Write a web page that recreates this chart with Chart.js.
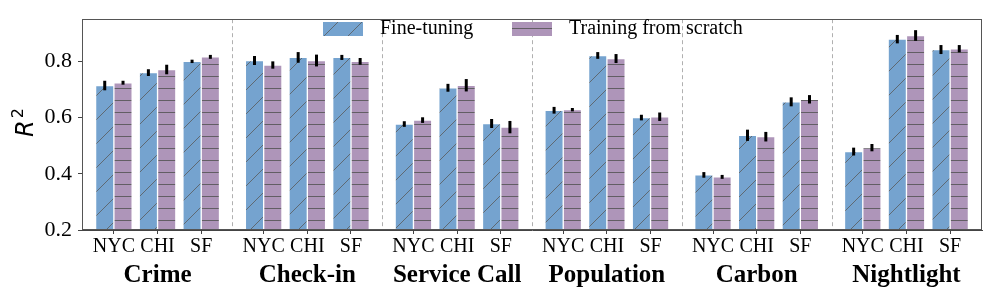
<!DOCTYPE html>
<html>
<head>
<meta charset="utf-8">
<script src="https://cdn.jsdelivr.net/npm/chart.js@4.4.1/dist/chart.umd.min.js"></script>
<style>
  html, body { margin: 0; padding: 0; background: #fff; }
  #wrap { width: 997px; height: 302px; }
</style>
</head>
<body>
<div id="wrap"><canvas id="chart" width="997" height="302"></canvas></div>
<script>
const tasks = ['Crime', 'Check-in', 'Service Call', 'Population', 'Carbon', 'Nightlight'];
const cities = ['NYC', 'CHI', 'SF'];

const fineTuning    = [0.714, 0.760, 0.800, 0.803, 0.814, 0.814, 0.577, 0.706, 0.579, 0.626, 0.821, 0.600, 0.396, 0.537, 0.656, 0.479, 0.879, 0.842];
const fineTuningErr = [0.017, 0.012, 0.006, 0.016, 0.019, 0.009, 0.010, 0.014, 0.016, 0.012, 0.012, 0.010, 0.010, 0.020, 0.016, 0.014, 0.015, 0.016];
const scratch       = [0.724, 0.771, 0.816, 0.787, 0.803, 0.800, 0.591, 0.715, 0.566, 0.628, 0.810, 0.603, 0.389, 0.532, 0.665, 0.493, 0.892, 0.845];
const scratchErr    = [0.007, 0.017, 0.007, 0.013, 0.021, 0.012, 0.010, 0.022, 0.022, 0.006, 0.016, 0.015, 0.007, 0.017, 0.015, 0.013, 0.019, 0.013];
const yTicks = [0.2, 0.4, 0.6, 0.8];

const blue = '#75a3cf';
const purple = '#ae95b9';
const serif = "'Liberation Serif', 'Times New Roman', serif";

// city slots on a linear x axis, with a wider gap between tasks
const groupStep = 3.43;
const xPos = tasks.flatMap((t, g) => cities.map((c, i) => g * groupStep + i));

const ctx = document.getElementById('chart').getContext('2d');

function diagPattern() {
  const s = 24;
  const c = document.createElement('canvas');
  c.width = s; c.height = s;
  const g = c.getContext('2d');
  g.fillStyle = blue;
  g.fillRect(0, 0, s, s);
  g.strokeStyle = 'rgba(90,90,90,0.8)';
  g.lineWidth = 1;
  g.beginPath();
  g.moveTo(-2, s + 2); g.lineTo(s + 2, -2);
  g.moveTo(-2, 2); g.lineTo(2, -2);
  g.moveTo(s - 2, s + 2); g.lineTo(s + 2, s - 2);
  g.stroke();
  return ctx.createPattern(c, 'repeat');
}

function horizPattern() {
  const s = 12;
  const c = document.createElement('canvas');
  c.width = s; c.height = s;
  const g = c.getContext('2d');
  g.fillStyle = purple;
  g.fillRect(0, 0, s, s);
  g.strokeStyle = 'rgba(85,85,85,0.85)';
  g.lineWidth = 1;
  g.beginPath();
  g.moveTo(0, 4.5); g.lineTo(s, 4.5);
  g.stroke();
  return ctx.createPattern(c, 'repeat');
}

const ftFill = diagPattern();
const tsFill = horizPattern();

const errs = [fineTuningErr, scratchErr];

const decorPlugin = {
  id: 'decor',
  beforeDatasetsDraw(chart) {
    const { ctx, chartArea: a, scales: { x } } = chart;
    ctx.save();
    ctx.strokeStyle = '#b0b0b0';
    ctx.lineWidth = 1;
    ctx.setLineDash([4, 3]);
    for (let g = 0; g < tasks.length - 1; g++) {
      const px = Math.round(x.getPixelForValue(g * groupStep + 2 + (groupStep - 2) / 2)) + 0.5;
      ctx.beginPath();
      ctx.moveTo(px, a.top);
      ctx.lineTo(px, a.bottom);
      ctx.stroke();
    }
    ctx.restore();
  },
  afterDatasetsDraw(chart) {
    const { ctx, scales: { y } } = chart;
    ctx.save();
    ctx.strokeStyle = '#000';
    ctx.lineWidth = 3;
    chart.data.datasets.forEach((ds, di) => {
      const meta = chart.getDatasetMeta(di);
      meta.data.forEach((bar, i) => {
        const v = ds.data[i].y;
        const e = errs[di][i];
        ctx.beginPath();
        ctx.moveTo(bar.x, y.getPixelForValue(v - e));
        ctx.lineTo(bar.x, y.getPixelForValue(v + e));
        ctx.stroke();
      });
    });
    ctx.restore();
  },
  afterDraw(chart) {
    const { ctx, chartArea: a, scales: { x } } = chart;
    ctx.save();
    // frame
    ctx.strokeStyle = '#555';
    ctx.lineWidth = 1;
    ctx.strokeRect(Math.round(a.left) + 0.5, Math.round(a.top) + 0.5,
      Math.round(a.right - a.left) - 1, Math.round(a.bottom - a.top) - 1);

    // task labels
    ctx.fillStyle = '#000';
    ctx.font = 'bold 25px ' + serif;
    ctx.textAlign = 'center';
    ctx.textBaseline = 'alphabetic';
    tasks.forEach((t, g) => {
      ctx.fillText(t, x.getPixelForValue(g * groupStep + 1), 282);
    });

    // y title R^2
    ctx.save();
    ctx.translate(33, 137);
    ctx.rotate(-Math.PI / 2);
    ctx.textAlign = 'left';
    ctx.font = 'italic 24px "DejaVu Sans"';
    ctx.fillText('R', 0, 0);
    const rw = ctx.measureText('R').width;
    ctx.font = '16px "DejaVu Sans"';
    ctx.fillText('2', rw + 2, -10);
    ctx.restore();

    // legend
    const items = [
      { label: 'Fine-tuning', fill: ftFill, x: 323 },
      { label: 'Training from scratch', fill: tsFill, x: 512 }
    ];
    ctx.font = '20px ' + serif;
    ctx.textAlign = 'left';
    ctx.textBaseline = 'middle';
    items.forEach(it => {
      ctx.fillStyle = it.fill;
      ctx.fillRect(it.x, 22, 40, 14);
      ctx.fillStyle = '#000';
      ctx.fillText(it.label, it.x + 57, 29);
    });
    ctx.restore();
  }
};

new Chart(ctx, {
  type: 'bar',
  data: {
    datasets: [
      {
        label: 'Fine-tuning',
        data: xPos.map((v, i) => ({ x: v, y: fineTuning[i] })),
        backgroundColor: ftFill,
        borderColor: 'rgba(255,255,255,0.5)',
        borderWidth: 1,
        barThickness: 18.3
      },
      {
        label: 'Training from scratch',
        data: xPos.map((v, i) => ({ x: v, y: scratch[i] })),
        backgroundColor: tsFill,
        borderColor: 'rgba(255,255,255,0.5)',
        borderWidth: 1,
        barThickness: 18.3
      }
    ]
  },
  options: {
    responsive: false,
    animation: false,
    layout: { padding: { top: 15, right: 15, left: 0, bottom: 0 } },
    plugins: { legend: { display: false }, tooltip: { enabled: false } },
    scales: {
      x: {
        type: 'linear',
        offset: false,
        min: -0.73,
        max: (tasks.length - 1) * groupStep + 2.73,
        afterBuildTicks: s => { s.ticks = xPos.map(v => ({ value: v })); },
        afterFit: s => { s.height = 72; },
        ticks: {
          callback: (v, i) => cities[i % cities.length],
          font: { family: serif, size: 20 },
          color: '#000',
          padding: 1,
          maxRotation: 0,
          autoSkip: false
        },
        grid: { offset: false, drawOnChartArea: false, drawTicks: true, tickLength: 4, tickColor: '#444' },
        border: { color: '#444' }
      },
      y: {
        min: 0.2,
        max: 0.95,
        afterBuildTicks: s => { s.ticks = yTicks.map(v => ({ value: v })); },
        afterFit: s => { s.width = 82; },
        ticks: {
          callback: v => v.toFixed(1),
          font: { family: serif, size: 22 },
          color: '#000',
          padding: 6
        },
        grid: { drawOnChartArea: false, drawTicks: true, tickLength: 4, tickColor: '#444' },
        border: { color: '#444' }
      }
    }
  },
  plugins: [decorPlugin]
});
</script>
</body>
</html>
